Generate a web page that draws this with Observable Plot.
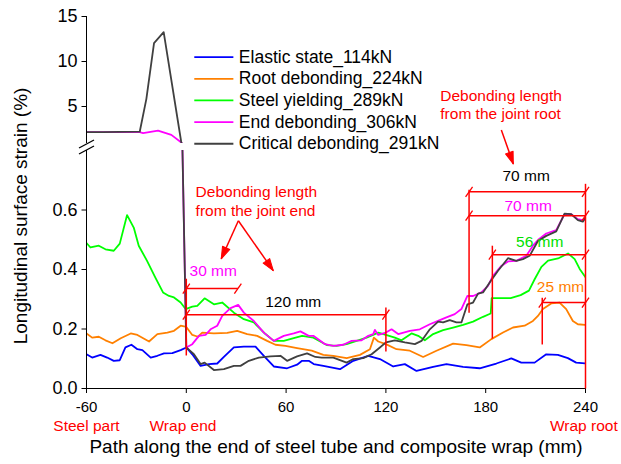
<!DOCTYPE html>
<html><head><meta charset="utf-8">
<script src="https://cdn.jsdelivr.net/npm/d3@7"></script>
<script src="https://cdn.jsdelivr.net/npm/@observablehq/plot@0.6"></script>
<style>
html,body{margin:0;padding:0;background:#fff;}
#chart{position:relative;width:621px;height:464px;}
#chart svg{position:absolute;left:0;top:0;}
</style></head><body><div id="chart"></div>
<script>
const FONT = '"Liberation Sans", Arial, Helvetica, sans-serif';

// ---- axis ticks ----
const xTicks = [-60, 0, 60, 120, 180, 240];
const lowerTicks = [0, 0.2, 0.4, 0.6];
const upperTicks = [5, 10, 15];

// ---- series ----
const seriesNames = ["Elastic state_114kN", "Root debonding_224kN", "Steel yielding_289kN", "End debonding_306kN", "Critical debonding_291kN"];
const seriesColors = ["#0000ff", "#ff8000", "#00ff00", "#ff00ff", "#404040"];

const elasticX = [-60,-56.6,-51.6,-47.6,-43.6,-40,-36.6,-33,-29.4,-26.4,-21.4,-17.4,-13.4,-8.4,-3.4,0,3.6,8.6,13.6,18.6,22.6,28.6,34.6,41.6,46.6,52.6,60.6,66.6,69.6,73.6,76.6,82.4,92.4,100.4,109.4,116.4,124.4,131.4,138.4,148.4,156.4,166.4,176.4,186.4,195.4,201.4,209.4,216.4,223.4,229.4,234.4,240];
const elasticV = [0.115,0.104,0.113,0.104,0.093,0.095,0.138,0.147,0.132,0.129,0.104,0.110,0.118,0.119,0.129,0.138,0.115,0.076,0.082,0.084,0.106,0.138,0.141,0.141,0.110,0.074,0.068,0.080,0.093,0.093,0.082,0.076,0.065,0.093,0.110,0.099,0.074,0.082,0.059,0.073,0.082,0.073,0.068,0.084,0.101,0.087,0.087,0.115,0.113,0.102,0.087,0.084];

const rootX = [-60,-56.6,-52.6,-48.6,-44.4,-39.4,-33.4,-29.4,-22.4,-17.4,-11.4,-7.4,-3.4,0,3.6,7,9.6,16.6,24.6,30.6,36.6,42.6,48.6,53.6,59.6,66.6,75.4,82.4,88.4,96.4,104.4,110.4,112.8,115.4,120,126.4,134.4,142.4,150.4,160.4,168.4,176.4,183.4,190.4,196.4,203.4,208.4,211.4,214.4,219.4,224.4,228.4,232.4,235.4,240];
const rootV = [0.185,0.171,0.174,0.162,0.152,0.169,0.185,0.180,0.158,0.183,0.188,0.194,0.211,0.207,0.180,0.174,0.188,0.185,0.187,0.194,0.183,0.177,0.160,0.147,0.143,0.136,0.127,0.113,0.110,0.102,0.113,0.132,0.171,0.158,0.149,0.132,0.127,0.106,0.127,0.151,0.146,0.138,0.166,0.188,0.205,0.211,0.227,0.244,0.267,0.286,0.289,0.267,0.227,0.216,0.214];

const yieldX = [-60,-57.6,-52.6,-48.6,-43.6,-40,-35.6,-31.6,-28.6,-23.6,-18.6,-14,-10.4,-7.4,-3.4,-0.4,3.6,6.6,11,16.6,21.6,28.6,34.6,40.6,47.6,52.6,58.6,64.6,69.6,76.4,84.4,90.4,96.4,102.4,108.4,115.4,120,125.4,129.4,135.4,139.4,143.4,148.4,154.4,160.4,166.4,172.4,178.4,183,183.6,189,195,201,206,209.5,213.5,217.5,223.5,229.5,233.5,236.5,240];
const yieldV = [0.489,0.474,0.480,0.468,0.463,0.487,0.583,0.541,0.480,0.429,0.373,0.323,0.311,0.306,0.289,0.267,0.275,0.278,0.303,0.283,0.289,0.255,0.233,0.222,0.183,0.160,0.160,0.169,0.177,0.171,0.146,0.143,0.149,0.160,0.171,0.188,0.180,0.171,0.162,0.185,0.177,0.162,0.183,0.196,0.205,0.214,0.225,0.241,0.252,0.304,0.304,0.304,0.314,0.329,0.368,0.409,0.430,0.437,0.454,0.435,0.402,0.374];

const endX = [-60,-50,-40,-28,-26,-17,-9,-3,0,3.6,7.6,11.6,14.6,18.6,21.6,26.6,31.2,34.6,40.6,46.6,52.6,58.6,64.6,68.6,73.6,76.4,83.4,88.4,94.4,99.4,105.4,109.4,112.4,113.4,115.4,120,123.4,127.4,134.4,140.4,146.4,152.4,156.4,161.4,165.4,169,172.4,177.4,181.4,184.4,189.4,193.4,198.4,204.4,208.4,211.4,216.4,222.4,227.4,231.4,235.4,238.4,240];
const endV = [2.15,2.15,2.15,2.15,2.05,2.33,1.85,1.0,0.138,0.149,0.177,0.180,0.199,0.211,0.244,0.270,0.281,0.255,0.227,0.188,0.160,0.177,0.185,0.192,0.177,0.177,0.149,0.143,0.147,0.160,0.162,0.177,0.183,0.197,0.180,0.188,0.199,0.183,0.194,0.199,0.216,0.230,0.239,0.250,0.267,0.311,0.311,0.323,0.345,0.379,0.412,0.427,0.429,0.446,0.480,0.499,0.521,0.532,0.586,0.586,0.569,0.566,0.575];

const critX = [-60,-50,-40,-28,-24,-19.4,-13.6,-3,0,4.6,8.6,11,16.6,22.6,28.6,32.6,37.6,43.6,50.6,56.6,60.6,66.6,72.6,77.6,81.4,88.4,96.4,100.4,106.4,111.4,116.4,120,125.4,131.4,137.4,141.4,146.4,151.4,154.4,158.4,162.4,165.4,169,172.4,175.4,178.4,182.4,187.4,193.4,198.4,202.4,206.4,211.4,216.4,222.4,227.4,231.4,235.4,238.4,240];
const critV = [2.15,2.15,2.17,2.2,5.85,12.04,13.26,1.0,0.138,0.115,0.082,0.087,0.062,0.065,0.076,0.076,0.093,0.104,0.108,0.110,0.093,0.108,0.118,0.106,0.104,0.104,0.087,0.099,0.102,0.115,0.138,0.155,0.162,0.155,0.149,0.160,0.199,0.225,0.222,0.230,0.222,0.222,0.283,0.289,0.319,0.323,0.356,0.396,0.438,0.429,0.435,0.446,0.496,0.513,0.528,0.588,0.586,0.566,0.561,0.573];

// ---- annotation texts ----
const yTitle = "Longitudinal surface strain (%)";
const xTitle = "Path along the end of steel tube and composite wrap (mm)";
const placeLabels = ["Steel part", "Wrap end", "Wrap root"];
const noteEnd = ["Debonding length", "from the joint end"];
const noteRoot = ["Debonding length", "from the joint root"];
const dimTexts = ["30 mm", "120 mm", "70 mm", "70 mm", "56 mm", "25 mm"];

const toRows = (xs, vs) => xs.map((x, i) => ({x, v: vs[i]}));
const series = [
  toRows(elasticX, elasticV),
  toRows(rootX, rootV),
  toRows(yieldX, yieldV),
  toRows(endX, endV),
  toRows(critX, critV)
].map((rows, i) => ({rows, name: seriesNames[i], color: seriesColors[i]}));

// ---- layout (annotation placement in data units) ----
const W = 621, H = 464;
const ML = 86, MR = 36;
const lowerTop = 150, lowerBottom = 388, upperTop = 16, upperBottom = 143;
const KX = (W - ML - MR) / 300, KY = (lowerBottom - lowerTop) / 0.8;
const ANN = 15.5, YTICK = 18;

const dimLines = [
  {x1: 0, x2: 31, v: 0.336, label: 0, lx: 16.2, lv: 0.396, c: "#ff00ff"},
  {x1: 0, x2: 120, v: 0.248, label: 1, lx: 64.3, lv: 0.292, c: "#000000"},
  {x1: 170, x2: 240, v: 0.661, label: 2, lx: 204.3, lv: 0.713, c: "#000000"},
  {x1: 170, x2: 240, v: 0.581, label: 3, lx: 205.5, lv: 0.614, c: "#ff00ff"},
  {x1: 184, x2: 240, v: 0.450, label: 4, lx: 212.5, lv: 0.491, c: "#00e000"},
  {x1: 214, x2: 240, v: 0.289, label: 5, lx: 225, lv: 0.342, c: "#ff8000"}
];
const vRules = [
  {x: 0, v1: 0.111, v2: 0.369},
  {x: 120, v1: 0.124, v2: 0.272},
  {x: 170, v1: 0.255, v2: 0.668},
  {x: 184, v1: 0.168, v2: 0.480},
  {x: 214, v1: 0.148, v2: 0.305},
  {x: 240, v1: 0, v2: 0.688}
];
const arrows = [
  {x1: 31.3, v1: 0.564, x2: 21.0, v2: 0.436},
  {x1: 31.3, v1: 0.564, x2: 52.3, v2: 0.396},
  {x1: 189.4, v1: 0.869, x2: 196.6, v2: 0.755}
];
const arrowAngle = a => Math.atan2((a.x2 - a.x1) * KX, (a.v2 - a.v1) * KY) * 180 / Math.PI;

const dimEnds = dimLines.flatMap(d => [{x: d.x1, v: d.v}, {x: d.x2, v: d.v}]);
const slash = {draw(ctx) { ctx.moveTo(-3.5, 5); ctx.lineTo(3.5, -5); }};
const breakSlash = {draw(ctx) { ctx.moveTo(-7.5, 4); ctx.lineTo(7.5, -4); }};
const leftTick = {draw(ctx) { ctx.moveTo(-5, 0); ctx.lineTo(0, 0); }};
const head = {draw(ctx, l) { ctx.moveTo(-4, 0); ctx.lineTo(0, -l); ctx.lineTo(4, 0); ctx.closePath(); }};

const baseStyle = {fontFamily: FONT, fontSize: "15px", background: "transparent", color: "black", overflow: "visible"};
const lineMarks = series.map(s => Plot.line(s.rows, {x: "x", y: "v", stroke: s.color, strokeWidth: 1.8, clip: true}));
const plain = d => `${d}`;

// hand-built left axis (line, outward ticks, labels)
const yAxisMarks = (ticks, fmt) => [
  Plot.ruleX([-60], {stroke: "#000", strokeWidth: 1}),
  Plot.dot(ticks, {x: -60, y: d => d, symbol: leftTick, stroke: "#000", fill: "none", strokeWidth: 1}),
  Plot.text(ticks, {x: -60, y: d => d, dx: -9, text: fmt, textAnchor: "end", fontSize: YTICK})
];

const lower = Plot.plot({
  width: W, height: H, marginLeft: ML, marginRight: MR, marginTop: lowerTop, marginBottom: H - lowerBottom,
  style: baseStyle,
  x: {domain: [-60, 240], ticks: xTicks, tickFormat: plain, tickSize: 5, tickPadding: 8, line: true, label: null},
  y: {domain: [0, 0.8], axis: null},
  marks: [
    ...lineMarks,
    ...yAxisMarks(lowerTicks, d3.format(".1f")),
    Plot.link(vRules, {x1: "x", x2: "x", y1: "v1", y2: "v2", stroke: "#ff0000", strokeWidth: 1.5}),
    Plot.link(dimLines, {x1: "x1", x2: "x2", y1: "v", y2: "v", stroke: "#ff0000", strokeWidth: 1.5}),
    Plot.dot(dimEnds, {x: "x", y: "v", symbol: slash, stroke: "#ff0000", fill: "none", strokeWidth: 1.3}),
    Plot.text(dimLines, {x: "lx", y: "lv", text: d => dimTexts[d.label], fill: d => d.c, fontSize: ANN}),
    Plot.text(noteEnd, {x: 5.6, y: (d, i) => [0.661, 0.597][i], text: d => d, textAnchor: "start", fill: "#ff0000", fontSize: ANN}),
    Plot.text(noteRoot, {x: 152.7, y: (d, i) => [0.983, 0.921][i], text: d => d, textAnchor: "start", fill: "#ff0000", fontSize: ANN}),
    Plot.link(arrows, {x1: "x1", y1: "v1", x2: "x2", y2: "v2", stroke: "#ff0000", strokeWidth: 1.5}),
    Plot.vector(arrows, {x: "x2", y: "v2", rotate: arrowAngle, length: 12, anchor: "end", shape: head, fill: "#ff0000", stroke: "#ff0000", strokeWidth: 1}),
    Plot.dot([0.8217, 0.8017], {x: -60, y: d => d, symbol: breakSlash, stroke: "#000", fill: "none", strokeWidth: 1.3}),
    Plot.text(placeLabels, {x: (d, i) => [-60, -2, 239][i], text: d => d, frameAnchor: "bottom", dy: 42, fill: "#ff0000", fontSize: ANN}),
    Plot.text([xTitle], {x: 90, text: d => d, frameAnchor: "bottom", dy: 64, fontSize: 19}),
    Plot.text([yTitle], {x: -60, y: 0.58, dx: -66, text: d => d, rotate: -90, fontSize: 19})
  ]
});

const legendV = [10.48, 8.08, 5.67, 3.26, 0.86];
const legendRows = series.map((s, i) => ({name: s.name, color: s.color, v: legendV[i]}));

const upper = Plot.plot({
  width: W, height: H, marginLeft: ML, marginRight: MR, marginTop: upperTop, marginBottom: H - upperBottom,
  style: baseStyle,
  x: {domain: [-60, 240], axis: null},
  y: {domain: [0.889, 15], axis: null},
  marks: [
    ...lineMarks,
    ...yAxisMarks(upperTicks, plain),
    Plot.link(legendRows, {x1: 4.8, x2: 28.3, y1: "v", y2: "v", stroke: "color", strokeWidth: 1.8}),
    Plot.text(legendRows, {x: 31.6, y: "v", text: "name", textAnchor: "start", fontSize: 17.5})
  ]
});

const chart = document.getElementById("chart");
chart.append(lower, upper);
</script></body></html>
